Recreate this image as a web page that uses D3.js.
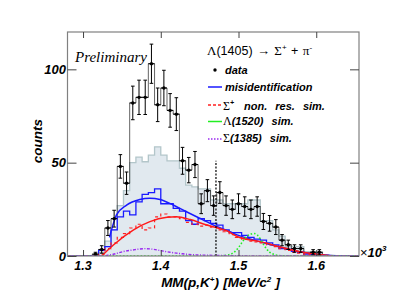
<!DOCTYPE html>
<html>
<head>
<meta charset="utf-8">
<script src="https://cdn.jsdelivr.net/npm/d3@7"></script>
<style>
  body { margin: 0; background: #fff; }
  text { font-family: "Liberation Sans", Arial, sans-serif; }
  .bi { font-weight: bold; font-style: italic; }
  .greek { font-family: "Liberation Serif", serif; font-weight: normal; font-style: normal; }
</style>
</head>
<body>
<div id="chart"></div>
<script>
// histogram bins, 0.008 wide, starting at 1.28 (units of 10^3 MeV/c^2)
const binStart = 1.28;
const binWidth = 0.008;

const dataCounts = [0, 0, 0, 0, 1, 3.5, 15, 20, 48, 39, 82, 85, 85, 103, 81, 90, 78, 76, 51, 46,
  49, 28, 35, 27, 34, 27, 25, 28, 26.5, 25, 26.5, 18.5, 17.5, 15.5, 8.5, 6, 4, 4, 0, 2,
  2, 0, 0, 0, 0, 0, 0];
const dataErrors = [0, 0, 0, 0, 1, 2, 4, 4.5, 6.3, 6, 9, 9.2, 9.2, 10.5, 9, 9.5, 9, 8.8, 7.2, 6.8,
  7, 5.3, 5.9, 5.2, 5.8, 5.2, 5, 5.3, 5.2, 5, 5.2, 4.3, 4.2, 4, 3, 2.5, 2, 2, 0, 1.4,
  1.4, 0, 0, 0, 0, 0, 0];
// light grey filled histogram
const fillCounts = [0, 0, 0, 0, 0.5, 2, 8, 14, 27, 35, 50, 53, 50.5, 54, 58.5, 54, 51, 51, 47, 38,
  37, 36, 36, 30, 30, 28, 28, 28, 28, 30, 30, 19, 19, 14, 10.7, 5, 5, 5, 2.3, 2.3,
  2, 0.5, 0.3, 0, 0, 0, 0];
const misidHist = [0, 0, 0, 0, 0, 3, 5, 14, 21, 24, 22, 29, 33, 34, 36, 28, 28, 25.5, 24, 19,
  17, 20, 19, 17.5, 16.5, 14, 12.5, 12.5, 11, 10, 9, 8.5, 7, 6, 4, 3.5, 2.5, 2, 1, 0.7,
  0.5, 0.3, 0, 0, 0, 0, 0];
const nonresHist = [0, 0, 0, 0, 0, 1, 4, 7, 10, 12, 15, 17, 14, 15, 21, 22.5, 21, 21, 20, 18,
  17, 16, 16.5, 15.5, 14, 13, 11.5, 10, 9, 8, 7.5, 7, 6, 5, 4, 3, 2, 1.5, 1, 0.5,
  0.3, 0, 0, 0, 0, 0, 0];
const l1520Hist = [0, 0, 0, 0, 0, 0, 0, 0, 0, 0, 0, 0, 0, 0, 0, 0, 0, 0, 0, 0,
  0, 0, 0, 0, 0, 0.3, 1, 4, 10, 12, 12.5, 6, 1.5, 0.5, 0, 0, 0, 0, 0, 0,
  0, 0, 0, 0, 0, 0, 0];
const s1385Hist = [0, 0, 0, 0, 0, 0, 0.3, 1, 2, 2.8, 3.2, 3.8, 4, 3.8, 3.2, 2.5, 2, 1.5, 1.2, 0.8,
  0.6, 0.5, 0.4, 0.3, 0.3, 0.2, 0.2, 0.1, 0.1, 0, 0, 0, 0, 0, 0, 0, 0, 0, 0, 0,
  0, 0, 0, 0, 0, 0, 0];

// fitted curves
const misidCurveX = [1.334, 1.338, 1.343, 1.356, 1.373, 1.386, 1.399, 1.416, 1.433, 1.45,
  1.471, 1.489, 1.499, 1.52, 1.54, 1.56, 1.579, 1.6, 1.618, 1.63];
const misidCurveY = [10, 16, 22, 27.3, 30.3, 31, 30.3, 27.3, 23.7, 20.2,
  16, 13, 11.2, 8.5, 6.2, 4.2, 2.3, 1.1, 0.3, 0];
const nonresCurveX = [1.324, 1.339, 1.365, 1.386, 1.408, 1.42, 1.438, 1.459, 1.471, 1.485,
  1.499, 1.528, 1.553, 1.579, 1.6, 1.62];
const nonresCurveY = [0, 5.9, 14, 18.4, 20.7, 21, 19.5, 16.6, 15.3, 13.5,
  10.3, 7.7, 5, 2.3, 1.1, 0];

const xTicks = [1.3, 1.4, 1.5, 1.6];
const yTicks = [0, 50, 100];
const cutLine = { x: 1.471, top: 51 };

const W = 407, H = 297;
const svg = d3.select("#chart").append("svg").attr("width", W).attr("height", H);

const x = d3.scaleLinear().domain([1.28, 1.655]).range([67.5, 359]);
const y = d3.scaleLinear().domain([0, 120]).range([256, 32]);

svg.append("clipPath").attr("id", "plot")
  .append("rect").attr("x", 67.5).attr("y", 32).attr("width", 291.5).attr("height", 224);

const g = svg.append("g").attr("clip-path", "url(#plot)");

// turn bin values into step points
function steps(vals) {
  let pts = vals.map((v, i) => [binStart + i * binWidth, v]);
  pts.push([binStart + vals.length * binWidth, vals[vals.length - 1]]);
  return pts;
}
let stepLine = d3.line().x(d => x(d[0])).y(d => y(d[1])).curve(d3.curveStepAfter);
let stepArea = d3.area().x(d => x(d[0])).y0(y(0)).y1(d => y(d[1])).curve(d3.curveStepAfter);
let centers = vals => vals.map((v, i) => [binStart + (i + 0.5) * binWidth, v]);
let smooth = d3.line().x(d => x(d[0])).y(d => y(d[1])).curve(d3.curveBasis);
let natural = d3.line().x(d => x(d[0])).y(d => y(d[1])).curve(d3.curveMonotoneX);

g.append("path").attr("d", stepArea(steps(fillCounts)))
  .attr("fill", "#e1e9ef").attr("stroke", "none");
g.append("path").attr("d", stepLine(steps(fillCounts)))
  .attr("fill", "none").attr("stroke", "#b3c6ca").attr("stroke-width", 1.3);

// data histogram outline
g.append("path").attr("d", stepLine(steps(dataCounts)))
  .attr("fill", "none").attr("stroke", "#222").attr("stroke-width", 0.7);

// misidentification
g.append("path").attr("d", stepLine(steps(misidHist)))
  .attr("fill", "none").attr("stroke", "#1a1aff").attr("stroke-width", 1.3);
g.append("path").attr("d", natural(d3.zip(misidCurveX, misidCurveY)))
  .attr("fill", "none").attr("stroke", "#1a1aff").attr("stroke-width", 1.5);

// sigma+ non resonant
g.append("path").attr("d", stepLine(steps(nonresHist)))
  .attr("fill", "none").attr("stroke", "#ff2020").attr("stroke-width", 1.2)
  .attr("stroke-dasharray", "3,3");
g.append("path").attr("d", natural(d3.zip(nonresCurveX, nonresCurveY)))
  .attr("fill", "none").attr("stroke", "#ff1a1a").attr("stroke-width", 1.5);

// lambda(1520)
g.append("path").attr("d", smooth(centers(l1520Hist)))
  .attr("fill", "none").attr("stroke", "#22ee22").attr("stroke-width", 1.6)
  .attr("stroke-dasharray", "1.5,2");

// sigma(1385)
g.append("path").attr("d", smooth(centers(s1385Hist)))
  .attr("fill", "none").attr("stroke", "#9a2af0").attr("stroke-width", 1.4)
  .attr("stroke-dasharray", "3,1.5,1,1.5");

// vertical dashed line
g.append("line")
  .attr("x1", x(cutLine.x)).attr("x2", x(cutLine.x))
  .attr("y1", y(0)).attr("y2", y(cutLine.top))
  .attr("stroke", "#000").attr("stroke-width", 1.2).attr("stroke-dasharray", "2,1.5");

// data points with errors
let pts = centers(dataCounts).map((d, i) => ({ xv: d[0], v: d[1], e: dataErrors[i] }))
  .filter(d => d.v > 0);
let pg = g.append("g").attr("stroke", "#000").attr("stroke-width", 1);
pts.forEach(d => {
  let cx = x(d.xv), cy = y(d.v);
  pg.append("line").attr("x1", cx).attr("x2", cx).attr("y1", y(d.v - d.e)).attr("y2", y(d.v + d.e));
  pg.append("line").attr("x1", cx - 1.8).attr("x2", cx + 1.8).attr("y1", y(d.v + d.e)).attr("y2", y(d.v + d.e));
  pg.append("line").attr("x1", cx - 1.8).attr("x2", cx + 1.8).attr("y1", y(d.v - d.e)).attr("y2", y(d.v - d.e));
  pg.append("line").attr("x1", x(d.xv - binWidth / 2)).attr("x2", x(d.xv + binWidth / 2)).attr("y1", cy).attr("y2", cy);
});
g.append("g").selectAll("circle").data(pts).join("circle")
  .attr("cx", d => x(d.xv)).attr("cy", d => y(d.v)).attr("r", 1.7).attr("fill", "#000");

// frame and ticks
svg.append("rect").attr("x", 67.5).attr("y", 32).attr("width", 291.5).attr("height", 224)
  .attr("fill", "none").attr("stroke", "#808080").attr("stroke-width", 1.2);

svg.append("g").attr("transform", "translate(0,256)")
  .call(d3.axisBottom(x).tickValues(xTicks).tickSize(-6).tickFormat(""))
  .call(a => a.select(".domain").remove())
  .call(a => a.selectAll("line").attr("stroke", "#444"));
svg.append("g").attr("transform", "translate(0,32)")
  .call(d3.axisTop(x).tickValues(xTicks).tickSize(-6).tickFormat(""))
  .call(a => a.select(".domain").remove())
  .call(a => a.selectAll("line").attr("stroke", "#444"));
svg.append("g").attr("transform", "translate(67.5,0)")
  .call(d3.axisLeft(y).tickValues(yTicks).tickSize(-9).tickFormat(""))
  .call(a => a.select(".domain").remove())
  .call(a => a.selectAll("line").attr("stroke", "#444"));
svg.append("g").attr("transform", "translate(359,0)")
  .call(d3.axisRight(y).tickValues(yTicks).tickSize(-9).tickFormat(""))
  .call(a => a.select(".domain").remove())
  .call(a => a.selectAll("line").attr("stroke", "#444"));

// tick labels
svg.append("g").selectAll("text").data(xTicks).join("text").attr("class", "bi")
  .attr("x", d => x(d)).attr("y", 270).attr("text-anchor", "middle")
  .attr("font-size", 12.5).text(d => d.toFixed(1));
svg.append("g").selectAll("text").data(yTicks).join("text").attr("class", "bi")
  .attr("x", 66).attr("y", d => y(d) + 4.5).attr("text-anchor", "end")
  .attr("font-size", 13).text(d => d);

// axis titles
svg.append("text").attr("class", "bi").attr("font-size", 13.5)
  .attr("transform", "translate(42,119) rotate(-90)").attr("text-anchor", "end").text("counts");

let xt = svg.append("text").attr("class", "bi").attr("font-size", 13.5)
  .attr("x", 280).attr("y", 287).attr("text-anchor", "end").style("word-spacing", "0.5px");
xt.append("tspan").text("MM(p,K");
xt.append("tspan").attr("font-size", 8).attr("dy", -5).text("+");
xt.append("tspan").attr("dy", 5).text(")  [MeV/c");
xt.append("tspan").attr("font-size", 8).attr("dy", -5).text("2");
xt.append("tspan").attr("dy", 5).text(" ]");

let xe = svg.append("text").attr("x", 360).attr("y", 257).attr("font-size", 13);
xe.append("tspan").text("\u00d7");
xe.append("tspan").attr("class", "bi").text("10");
xe.append("tspan").attr("class", "bi").attr("font-size", 8).attr("dy", -6).text("3");

// preliminary
svg.append("text").attr("x", 75).attr("y", 62)
  .style("font-family", "'Liberation Serif', serif").style("font-style", "italic")
  .attr("font-size", 15).text("Preliminary");

// legend
let title = svg.append("text").attr("x", 207).attr("y", 55).attr("font-size", 12.5)
  .style("word-spacing", "1px");
title.append("tspan").attr("class", "greek").attr("font-size", 13).text("\u039b");
title.append("tspan").text("(1405) ");
title.append("tspan").attr("class", "greek").attr("font-size", 13).text("\u2192 \u03a3");
title.append("tspan").attr("font-size", 8).attr("dy", -5).text("+");
title.append("tspan").attr("dy", 5).text(" + ");
title.append("tspan").attr("class", "greek").attr("font-size", 13).text("\u03c0");
title.append("tspan").attr("font-size", 8).attr("dy", -5).text("-");

const legendRows = [
  { y: 70, kind: "dot" },
  { y: 87, color: "#1a1aff", dash: null },
  { y: 105, color: "#ff2020", dash: "3,2" },
  { y: 121.5, color: "#22ee22", dash: null },
  { y: 139, color: "#9a2af0", dash: "1.5,1.5" }
];
legendRows.forEach(r => {
  if (r.kind === "dot") {
    svg.append("circle").attr("cx", 215).attr("cy", r.y).attr("r", 1.7).attr("fill", "#000");
  } else {
    svg.append("line").attr("x1", 208).attr("x2", 222).attr("y1", r.y).attr("y2", r.y)
      .attr("stroke", r.color).attr("stroke-width", 1.5).attr("stroke-dasharray", r.dash);
  }
});
svg.append("text").attr("class", "bi").attr("x", 225).attr("y", 74).attr("font-size", 11).text("data");
svg.append("text").attr("class", "bi").attr("x", 225).attr("y", 91).attr("font-size", 11).text("misidentification");
let l3 = svg.append("text").attr("class", "bi").attr("x", 223).attr("y", 110).attr("font-size", 11)
  .style("word-spacing", "5px");
l3.append("tspan").attr("class", "greek").attr("font-size", 12).text("\u03a3");
l3.append("tspan").attr("font-size", 7).attr("dy", -5).text("+");
l3.append("tspan").attr("dy", 5).attr("x", 244).text("non. res. sim.");
let l4 = svg.append("text").attr("class", "bi").attr("x", 223).attr("y", 125).attr("font-size", 11)
  .style("word-spacing", "5px");
l4.append("tspan").attr("class", "greek").attr("font-size", 12).text("\u039b");
l4.append("tspan").text("(1520) sim.");
let l5 = svg.append("text").attr("class", "bi").attr("x", 223).attr("y", 142).attr("font-size", 11)
  .style("word-spacing", "5px");
l5.append("tspan").attr("class", "greek").attr("font-size", 12).text("\u03a3");
l5.append("tspan").text("(1385) sim.");
</script>
</body>
</html>
